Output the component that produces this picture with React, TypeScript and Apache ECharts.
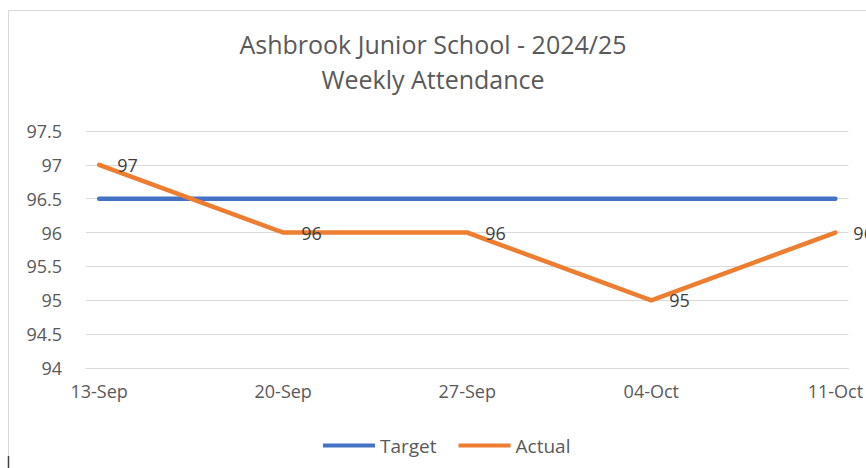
import React, { useEffect, useRef } from "react";
import * as echarts from "echarts";

const weekLabels = ["13-Sep", "20-Sep", "27-Sep", "04-Oct", "11-Oct"];
const targetValues = [96.5, 96.5, 96.5, 96.5, 96.5];
const actualValues = [97, 96, 96, 95, 96];
const yTicks = { min: 94, max: 97.5, interval: 0.5 };

const DAYS_PER_WEEK = 7;
// daily date axis (Excel date axis): one category per day, labels on each week
const dayCategories: string[] = [];
for (let i = 0; i <= (weekLabels.length - 1) * DAYS_PER_WEEK; i++) {
  dayCategories.push(i % DAYS_PER_WEEK === 0 ? weekLabels[i / DAYS_PER_WEEK] : "day" + i);
}

const FONT = "'Open Sans', 'Noto Sans', sans-serif";

export default function App() {
  const ref = useRef<HTMLDivElement>(null);
  useEffect(() => {
    if (!ref.current) return;
    const chart = echarts.init(ref.current, undefined, { renderer: "svg" });
    const isWeek = (idx: number) => idx % DAYS_PER_WEEK === 0;
    chart.setOption({
      animation: false,
      backgroundColor: "#ffffff",
      textStyle: { fontFamily: FONT },
      title: {
        text: "Ashbrook Junior School - 2024/25\nWeekly Attendance",
        left: "center",
        top: 26,
        padding: 0,
        textStyle: {
          fontFamily: FONT,
          fontSize: 25,
          lineHeight: 35,
          fontWeight: "normal",
          color: "#595959",
        },
      },
      graphic: [
        {
          type: "rect",
          z: -1,
          shape: { x: 8.5, y: 10.5, width: 900, height: 500 },
          style: { fill: "none", stroke: "#d9d9d9", lineWidth: 1 },
        },
        {
          type: "line",
          shape: { x1: 8.5, y1: 456, x2: 8.5, y2: 468 },
          style: { stroke: "#404040", lineWidth: 1.5 },
        },
      ],
      legend: {
        bottom: 13,
        left: 323,
        padding: 0,
        icon: "rect",
        itemWidth: 52,
        itemHeight: 4,
        itemGap: 22,
        textStyle: { fontFamily: FONT, fontSize: 19, color: "#595959" },
        data: ["Target", "Actual"],
      },
      grid: { left: 86, right: 14, top: 131, bottom: 100 },
      xAxis: {
        type: "category",
        boundaryGap: true,
        data: dayCategories,
        axisLine: { lineStyle: { color: "#d9d9d9", width: 1 } },
        axisTick: {
          interval: (idx: number) => isWeek(idx),
          length: 7,
          lineStyle: { color: "#d9d9d9" },
        },
        axisLabel: {
          interval: (idx: number) => isWeek(idx),
          margin: 14,
          fontFamily: FONT,
          fontSize: 18,
          color: "#595959",
        },
        splitLine: { show: false },
      },
      yAxis: {
        type: "value",
        min: yTicks.min,
        max: yTicks.max,
        interval: yTicks.interval,
        axisLine: { show: false },
        axisTick: { show: false },
        axisLabel: { margin: 24, fontFamily: FONT, fontSize: 18, color: "#595959" },
        splitLine: { lineStyle: { color: "#d9d9d9", width: 1 } },
      },
      series: [
        {
          name: "Target",
          type: "line",
          data: targetValues.map((v, k) => [k * DAYS_PER_WEEK, v]),
          showSymbol: false,
          symbol: "none",
          lineStyle: { color: "#4472C4", width: 4.5, cap: "round" },
          itemStyle: { color: "#4472C4" },
        },
        {
          name: "Actual",
          type: "line",
          data: actualValues.map((v, k) => [k * DAYS_PER_WEEK, v]),
          symbol: "circle",
          symbolSize: 0,
          showSymbol: true,
          lineStyle: { color: "#ED7D31", width: 4.5, cap: "round", join: "miter" },
          itemStyle: { color: "#ED7D31" },
          label: {
            show: true,
            position: "right",
            distance: 18,
            fontFamily: FONT,
            fontSize: 18,
            color: "#404040",
            formatter: (p: any) => String(p.value[1]),
          },
        },
      ],
    });
    return () => chart.dispose();
  }, []);
  return (
    <div
      ref={ref}
      style={{ position: "fixed", left: 0, top: 0, width: 866, height: 468 }}
    />
  );
}
